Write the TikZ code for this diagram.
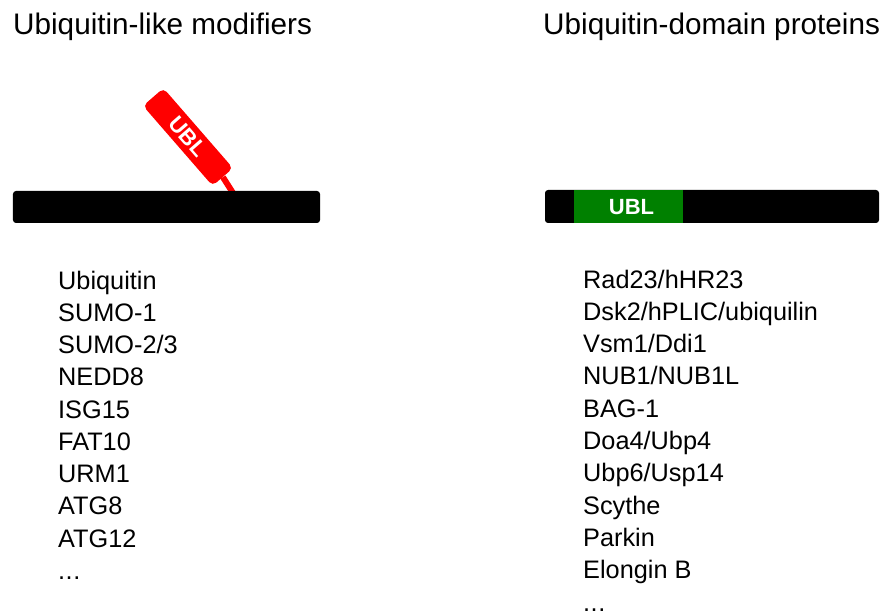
\documentclass[tikz,border=0pt]{standalone}
\usepackage{fontspec}
\setmainfont{Liberation Sans}
\definecolor{ublred}{RGB}{255,0,0}
\definecolor{ublgreen}{RGB}{0,128,0}
\begin{document}
\begin{tikzpicture}[x=1bp,y=-1bp,
  title/.style={anchor=base west, inner sep=0pt, font=\fontsize{29.7bp}{36bp}\selectfont},
  item/.style={anchor=base west, inner sep=0pt, font=\fontsize{25.3bp}{30bp}\selectfont},
  bar/.style={fill=black, rounded corners=3bp, inner sep=0pt},
  ubltext/.style={text=white, font=\fontsize{22bp}{26bp}\selectfont\bfseries}]
\useasboundingbox (0,0) rectangle (884,615);

% titles
\node[title] (tleft) at (13,35) {Ubiquitin-like modifiers};
\node[title] (tright) at (543,35) {Ubiquitin-domain proteins};

% red UBL tag
\node[fill=ublred, rounded corners=5bp, minimum width=106bp, minimum height=27bp,
      inner sep=0pt, rotate=-49, ubltext] (tag) at (188,137) {UBL};
\coordinate (stemend) at (233,193);
\draw[ublred, line width=6bp] (tag.east) -- (stemend);

% left bar
\node[bar, minimum width=307bp, minimum height=32bp] (lbar) at (166.5,207) {};

% right bar with green domain
\node[bar, minimum width=334bp, minimum height=33bp] (rbar) at (712,206.5) {};
\node[fill=ublgreen, inner sep=0pt, minimum width=109bp, minimum height=33bp] (dom) at (628.5,206.5) {};
\node[ubltext, anchor=base, inner sep=0pt] (domlab) at (631.5,215) {UBL};

% left list
\foreach \t [count=\i from 0] in {Ubiquitin,SUMO-1,SUMO-2/3,NEDD8,ISG15,FAT10,URM1,ATG8,ATG12}
  \node[item] (l\i) at (58,289+32.25*\i) {\t};
\node[item] (l9) at (58,289+32.25*9) {.\kern0.02em.\kern0.02em.};

% right list
\foreach \t [count=\i from 0] in {Rad23/hHR23,Dsk2/hPLIC/ubiquilin,Vsm1/Ddi1,NUB1/NUB1L,BAG-1,Doa4/Ubp4,Ubp6/Usp14,Scythe,Parkin,Elongin B}
  \node[item] (r\i) at (583,288+32.3*\i) {\t};
\node[item] (r10) at (583,288+32.3*10) {.\kern0.02em.\kern0.02em.};
\end{tikzpicture}
\end{document}
